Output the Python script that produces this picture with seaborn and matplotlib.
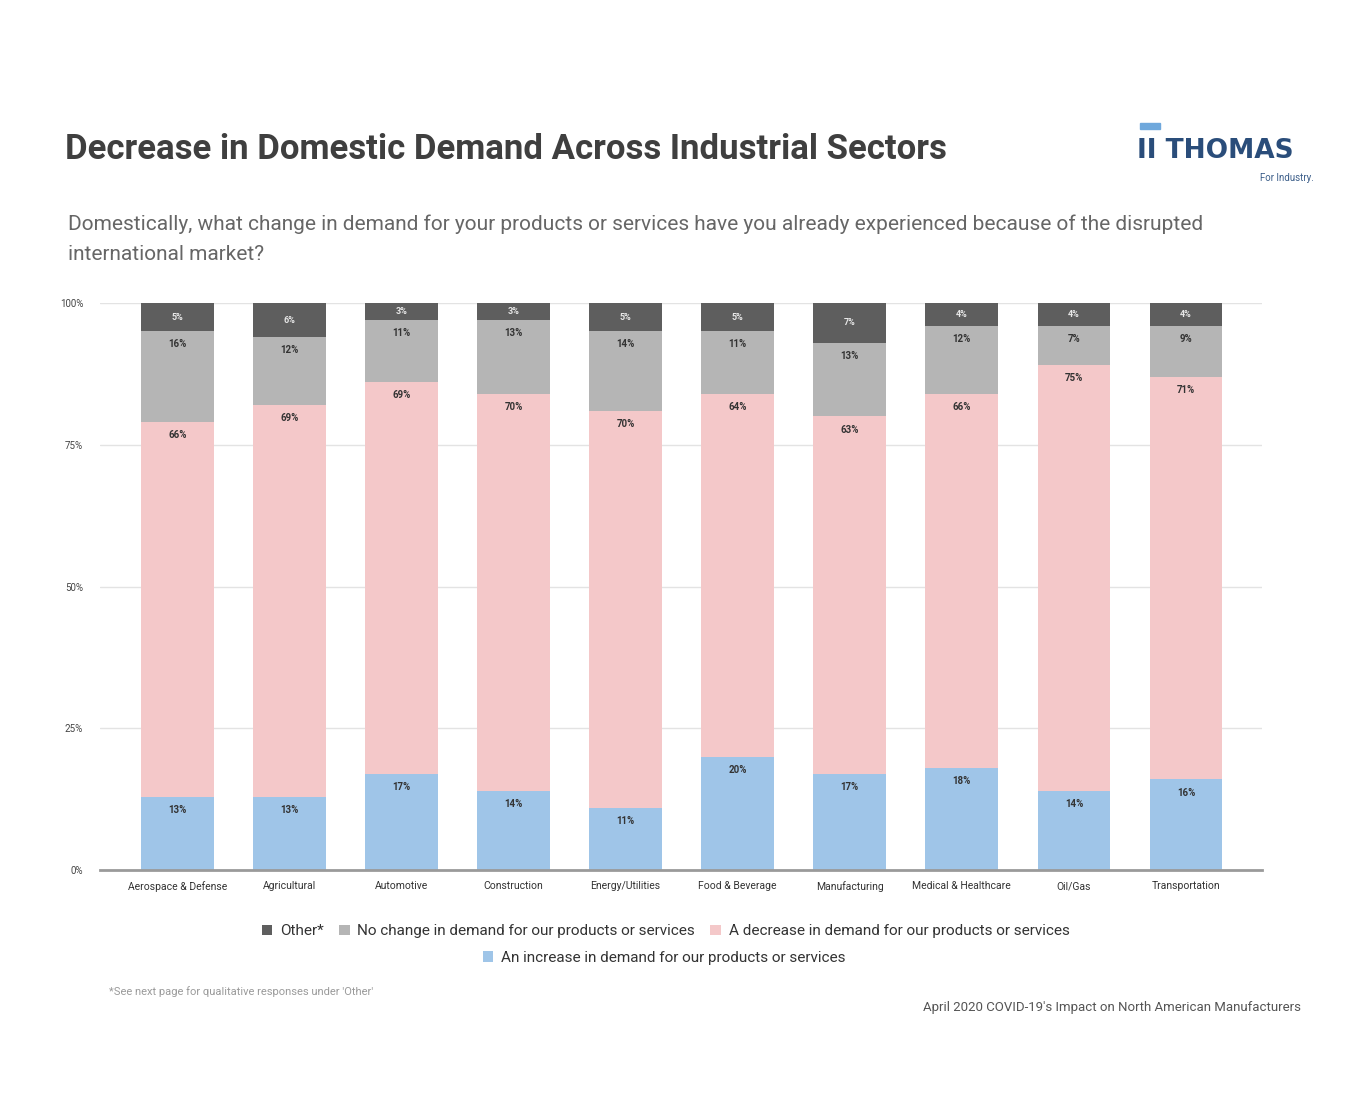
import numpy as np
import pandas as pd
import matplotlib
matplotlib.use("Agg")
import matplotlib.pyplot as plt
from matplotlib.patches import Patch, Rectangle
import seaborn as sns

sectors = ["Aerospace & Defense", "Agricultural", "Automotive", "Construction",
           "Energy/Utilities", "Food & Beverage", "Manufacturing",
           "Medical & Healthcare", "Oil/Gas", "Transportation"]
increase = [13, 13, 17, 14, 11, 20, 17, 18, 14, 16]
decrease = [66, 69, 69, 70, 70, 64, 63, 66, 75, 71]
no_change = [16, 12, 11, 13, 14, 11, 13, 12, 7, 9]
other = [5, 6, 3, 3, 5, 5, 7, 4, 4, 4]
yticks = [0, 25, 50, 75, 100]

series_names = ["Other*", "No change in demand for our products or services",
                "A decrease in demand for our products or services",
                "An increase in demand for our products or services"]
colors = ["#5e5e5e", "#b5b5b5", "#f4c8c9", "#9fc5e8"]

df = pd.DataFrame({"sector": sectors, "inc": increase, "dec": decrease,
                   "nc": no_change, "oth": other})
df["c_inc"] = df["inc"]
df["c_dec"] = df["c_inc"] + df["dec"]
df["c_nc"] = df["c_dec"] + df["nc"]
df["c_oth"] = df["c_nc"] + df["oth"]

sns.set_style("white")
plt.rcParams['font.family'] = ['Roboto', 'DejaVu Sans']

fig = plt.figure(figsize=(13.5, 11.1), dpi=100)
ax = fig.add_axes([0.074, 0.216, 0.861, 0.511])

# stacked bars drawn as overlapping cumulative totals
for col, c in zip(["c_oth", "c_nc", "c_dec", "c_inc"], colors):
    sns.barplot(data=df, x="sector", y=col, color=c, width=0.65,
                saturation=1, ax=ax, zorder=3, edgecolor="none", linewidth=0)

ax.set_xlim(-0.69, 9.68)
ax.set_ylim(0, 100)
ax.set_yticks(yticks)
ax.set_yticklabels([f"{t}%" for t in yticks], fontsize=7, color="#444444")
ax.tick_params(axis="x", labelsize=7.5, colors="#333333", length=0, pad=8)
ax.tick_params(axis="y", length=0, pad=12)
ax.set_xlabel("")
ax.set_ylabel("")
ax.grid(axis="y", color="#e3e3e3", linewidth=1, zorder=0)
for s in ["top", "right", "left"]:
    ax.spines[s].set_visible(False)
ax.spines["bottom"].set_color("#9a9a9a")
ax.spines["bottom"].set_linewidth(2)
ax.spines["bottom"].set_zorder(4)

# value labels
off = 2.3
for i, r in df.iterrows():
    ax.text(i, r["c_nc"] + r["oth"] / 2, f"{r['oth']}%", ha="center", va="center",
            fontsize=6.5, color="#e8e8e8", fontweight="bold", zorder=5)
    ax.text(i, r["c_nc"] - off, f"{r['nc']}%", ha="center", va="center",
            fontsize=7, color="#333333", fontweight="bold", zorder=5)
    ax.text(i, r["c_dec"] - off, f"{r['dec']}%", ha="center", va="center",
            fontsize=7, color="#333333", fontweight="bold", zorder=5)
    ax.text(i, r["c_inc"] - off, f"{r['inc']}%", ha="center", va="center",
            fontsize=7, color="#333333", fontweight="bold", zorder=5)

# titles
fig.text(0.048, 0.865, "Decrease in Domestic Demand Across Industrial Sectors",
         fontsize=25, fontweight="bold", color="#3f3f3f", ha="left", va="center")
fig.text(0.050, 0.798,
         "Domestically, what change in demand for your products or services have you already experienced because of the disrupted",
         fontsize=15, color="#666666", ha="left", va="center")
fig.text(0.050, 0.771, "international market?",
         fontsize=15, color="#666666", ha="left", va="center")

# logo
fig.patches.append(Rectangle((0.8445, 0.8835), 0.0145, 0.006, transform=fig.transFigure,
                             color="#6fa8dc", figure=fig))
fig.text(0.8425, 0.864, "II THOMAS", fontsize=19, fontweight="bold", color="#2a4d7a",
         ha="left", va="center", family="DejaVu Sans")
fig.text(0.973, 0.840, "For Industry.", fontsize=7, color="#3d5f8a", ha="right", va="center")

# legend
handles = [Patch(facecolor=c, edgecolor="none") for c in colors]
fig.legend(handles[:3], series_names[:3], loc="center", bbox_to_anchor=(0.493, 0.161),
           ncol=3, frameon=False, fontsize=11, handlelength=0.7, handleheight=0.7,
           handletextpad=0.5, columnspacing=1.0, labelcolor="#333333")
fig.legend(handles[3:], series_names[3:], loc="center", bbox_to_anchor=(0.492, 0.137),
           frameon=False, fontsize=11, handlelength=0.7, handleheight=0.7,
           handletextpad=0.5, labelcolor="#333333")

fig.text(0.081, 0.107, "*See next page for qualitative responses under 'Other'",
         fontsize=8, color="#9a9a9a", ha="left", va="center")
fig.text(0.964, 0.092, "April 2020 COVID-19's Impact on North American Manufacturers",
         fontsize=9.5, color="#555555", ha="right", va="center")

fig.savefig("out.png", dpi=100, facecolor="white")
